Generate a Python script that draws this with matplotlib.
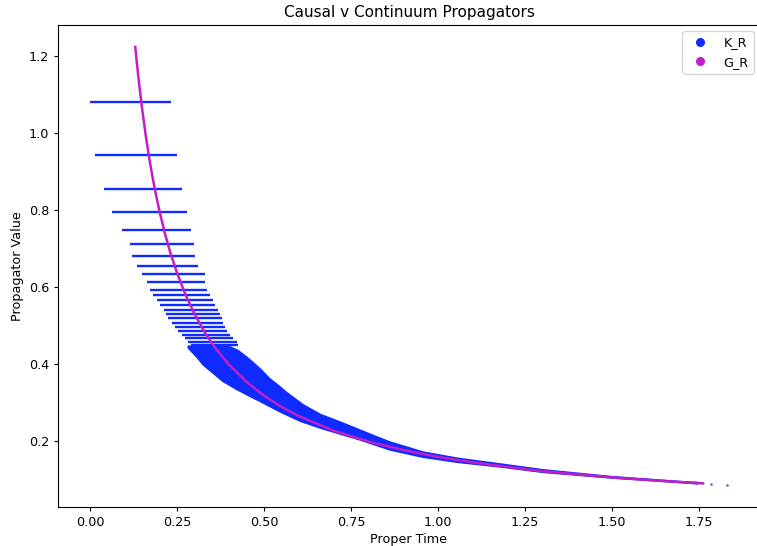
import numpy as np
import matplotlib
matplotlib.use("Agg")
import matplotlib.pyplot as plt
from matplotlib.lines import Line2D

# ---- Data ----
# K_R: discrete propagator levels (horizontal bands) with proper-time span
kr_levels = [1.080, 0.943, 0.856, 0.796, 0.748, 0.712, 0.681, 0.655, 0.633, 0.613,
             0.592, 0.579, 0.566, 0.553, 0.542, 0.530, 0.519, 0.506, 0.496, 0.486,
             0.475, 0.468, 0.457, 0.449]
kr_tau_min = [0.000, 0.014, 0.041, 0.062, 0.093, 0.115, 0.120, 0.134, 0.148, 0.165,
              0.172, 0.181, 0.193, 0.201, 0.213, 0.218, 0.224, 0.236, 0.244, 0.253,
              0.264, 0.273, 0.282, 0.290]
kr_tau_max = [0.232, 0.249, 0.265, 0.280, 0.290, 0.300, 0.302, 0.311, 0.330, 0.330,
              0.336, 0.345, 0.353, 0.359, 0.368, 0.374, 0.379, 0.382, 0.388, 0.394,
              0.402, 0.411, 0.422, 0.425]

# K_R dense cloud: upper and lower envelope
cloud_upper_tau = [0.282, 0.350, 0.400, 0.425, 0.451, 0.468, 0.489, 0.517, 0.537, 0.566,
                   0.612, 0.661, 0.727, 0.776, 0.828, 0.862, 0.957, 1.055, 1.187, 1.300,
                   1.500, 1.700, 1.745]
cloud_upper_val = [0.447, 0.447, 0.446, 0.436, 0.418, 0.405, 0.388, 0.362, 0.348, 0.326,
                   0.295, 0.270, 0.247, 0.229, 0.210, 0.198, 0.172, 0.156, 0.140, 0.126,
                   0.108, 0.095, 0.093]
cloud_lower_tau = [0.282, 0.307, 0.325, 0.353, 0.382, 0.422, 0.460, 0.489, 0.546, 0.603,
                   0.661, 0.727, 0.776, 0.862, 0.957, 1.055, 1.187, 1.300, 1.500, 1.700,
                   1.745]
cloud_lower_val = [0.442, 0.418, 0.398, 0.377, 0.355, 0.334, 0.316, 0.303, 0.276, 0.252,
                   0.234, 0.216, 0.203, 0.177, 0.158, 0.145, 0.132, 0.119, 0.104, 0.092,
                   0.089]

# K_R sparse tail points
kr_tail_tau = [1.740, 1.760, 1.785, 1.830]
kr_tail_val = [0.0915, 0.0905, 0.0890, 0.0870]

# G_R continuum propagator
gr_tau = [0.130, 0.135, 0.140, 0.150, 0.160, 0.170, 0.180, 0.190, 0.200, 0.215,
          0.230, 0.250, 0.275, 0.300, 0.330, 0.360, 0.400, 0.450, 0.500, 0.550,
          0.600, 0.700, 0.800, 0.900, 1.000, 1.100, 1.200, 1.300, 1.400, 1.500,
          1.600, 1.700, 1.760]
gr_val = [1.224, 1.179, 1.137, 1.061, 0.995, 0.936, 0.884, 0.838, 0.796, 0.740,
          0.692, 0.637, 0.579, 0.531, 0.482, 0.442, 0.398, 0.354, 0.318, 0.289,
          0.265, 0.227, 0.199, 0.177, 0.159, 0.145, 0.133, 0.122, 0.114, 0.106,
          0.0995, 0.0936, 0.0904]
gr_tail_tau = [1.785, 1.830]
gr_tail_val = [0.0892, 0.0870]

KR_COLOR = "#0f2bff"
GR_COLOR = "#c21ec8"

plt.rcParams["xtick.major.size"] = 3.2
plt.rcParams["ytick.major.size"] = 3.2
plt.rcParams["xtick.major.pad"] = 3.2
plt.rcParams["ytick.major.pad"] = 3.2

fig = plt.figure(figsize=(7.57, 5.46), dpi=100)
ax = fig.add_axes([58 / 757, 39 / 546, 702 / 757, 482 / 546])

# K_R horizontal level bands
ax.hlines(kr_levels, kr_tau_min, kr_tau_max, colors=KR_COLOR, linewidth=1.7, zorder=2)
# K_R cloud
cx = list(cloud_upper_tau) + list(cloud_lower_tau[::-1])
cy = list(cloud_upper_val) + list(cloud_lower_val[::-1])
ax.fill(cx, cy, color=KR_COLOR, linewidth=1.0, edgecolor=KR_COLOR, zorder=2)
ax.scatter(kr_tail_tau, kr_tail_val, s=3, color=KR_COLOR, alpha=0.6, zorder=2, linewidths=0)

# G_R curve
ax.plot(gr_tau, gr_val, color=GR_COLOR, linewidth=1.8, zorder=3)
ax.scatter(gr_tail_tau, gr_tail_val, s=3, color=GR_COLOR, alpha=0.6, zorder=3, linewidths=0)

ax.set_xlim(-0.092, 1.925)
ax.set_ylim(0.029, 1.281)
ax.set_xticks([0.00, 0.25, 0.50, 0.75, 1.00, 1.25, 1.50, 1.75])
ax.set_yticks([0.2, 0.4, 0.6, 0.8, 1.0, 1.2])
ax.tick_params(labelsize=9.2)
ax.set_xlabel("Proper Time", fontsize=9.2, labelpad=3.2)
ax.set_ylabel("Propagator Value", fontsize=9.2, labelpad=3.2)
ax.set_title("Causal v Continuum Propagators", fontsize=11, pad=5.5)

handles = [Line2D([], [], marker="o", linestyle="none", color=KR_COLOR, markersize=5.5),
           Line2D([], [], marker="o", linestyle="none", color=GR_COLOR, markersize=5.5)]
ax.legend(handles, ["K_R", "G_R"], loc="upper right", fontsize=9.2)

fig.savefig("out.png", dpi=100)
